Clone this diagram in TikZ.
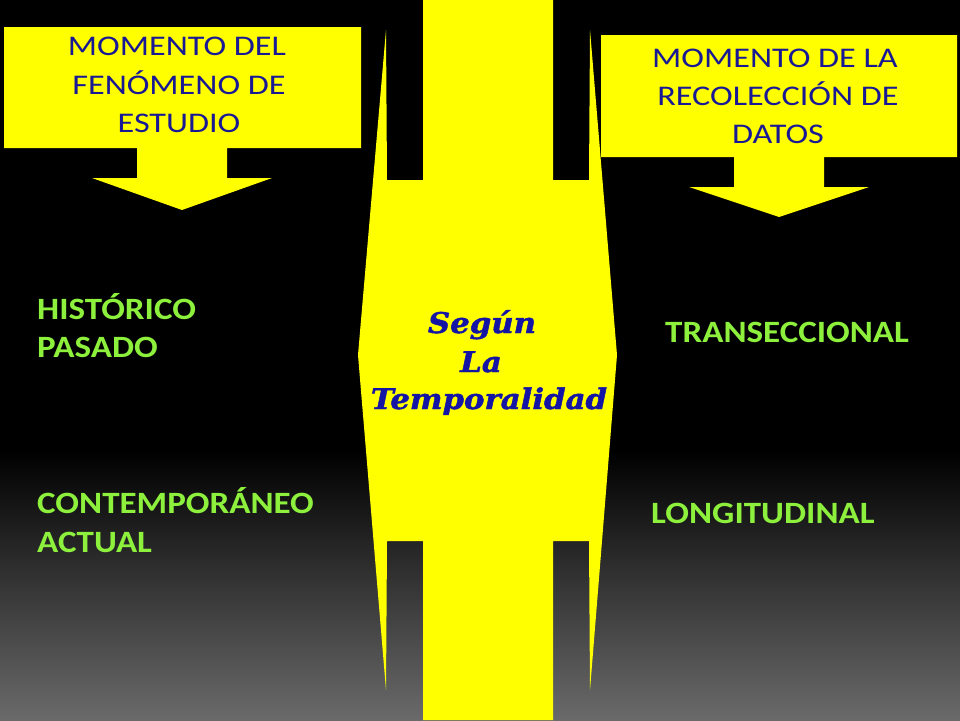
\documentclass[tikz,border=0pt]{standalone}
\usepackage{fontspec}
\newfontfamily\boxfont[FakeStretch=1.2]{Carlito}
\newfontfamily\greenfont[FakeStretch=1.13]{Carlito}
\newfontfamily\centfont[FakeStretch=1.08,FakeBold=1.6]{DejaVu Serif}
\definecolor{ylw}{RGB}{255,255,0}
\definecolor{boxblue}{RGB}{25,25,150}
\definecolor{cblue}{RGB}{20,20,165}
\definecolor{lgreen}{RGB}{140,240,60}
\definecolor{bgbottom}{RGB}{106,106,106}
\begin{document}
\begin{tikzpicture}[x=1pt,y=-1pt,
  boxtxt/.style={anchor=base,inner sep=0,text=boxblue,font=\boxfont\fontsize{28.5}{34}\selectfont},
  gtxt/.style={anchor=base west,inner sep=0,text=lgreen,font=\greenfont\bfseries\fontsize{31}{38}\selectfont},
  ctxt/.style={anchor=base,inner sep=0,text=cblue,font=\centfont\bfseries\itshape\fontsize{28.5}{33}\selectfont},
  yshape/.style={fill=ylw,draw=none}]
\useasboundingbox (0,0) rectangle (960,720);
% background
\fill[black] (0,0) rectangle (960,451);
\shade[top color=black,bottom color=bgbottom] (0,450) rectangle (960,720);
% central shape
\fill[yshape] (386,30) -- (387,180) -- (423,180) -- (423,0) -- (553,0) -- (553,180) -- (589,180)
  -- (590,30) -- (617,355) -- (590,690) -- (589,541) -- (553,541) -- (553,720) -- (423,720)
  -- (423,541) -- (387,541) -- (386,690) -- (358,355) -- cycle;
% left box with arrow
\fill[yshape] (4,27) -- (361,27) -- (361,148) -- (227,148) -- (227,178) -- (272,178) -- (182,210)
  -- (92,178) -- (137,178) -- (137,148) -- (4,148) -- cycle;
% right box with arrow
\fill[yshape] (601,35) -- (957,35) -- (957,157) -- (824,157) -- (824,187) -- (869,187) -- (779,217)
  -- (689,187) -- (734,187) -- (734,157) -- (601,157) -- cycle;
% box texts
\node[boxtxt] (l1) at (177,55) {MOMENTO DEL};
\node[boxtxt] (l2) at (179,94) {FENÓMENO DE};
\node[boxtxt] (l3) at (179,132) {ESTUDIO};
\node[boxtxt] (r1) at (775,67) {MOMENTO DE LA};
\node[boxtxt] (r2) at (778,105) {RECOLECCIÓN DE};
\node[boxtxt] (r3) at (778,143) {DATOS};
% green texts
\node[gtxt] (g1) at (37,319) {HISTÓRICO};
\node[gtxt] (g2) at (37,357) {PASADO};
\node[gtxt] (g3) at (37,513) {CONTEMPORÁNEO};
\node[gtxt] (g4) at (37,552) {ACTUAL};
\node[gtxt] (g5) at (665,342) {TRANSECCIONAL};
\node[gtxt] (g6) at (651,523) {LONGITUDINAL};
% centre text
\node[ctxt] (c1) at (482,333) {Según};
\node[ctxt] (c2) at (481,372) {La};
\node[ctxt] (c3) at (489,409) {Temporalidad};
\end{tikzpicture}
\end{document}
